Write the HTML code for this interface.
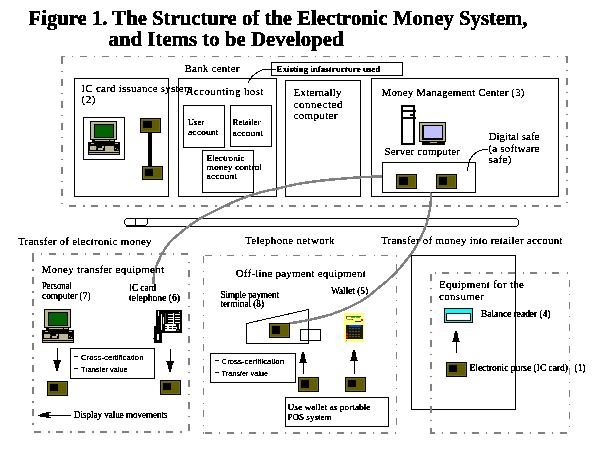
<!DOCTYPE html>
<html><head><meta charset="utf-8"><style>
html,body{margin:0;padding:0;background:#fff;}
body{width:610px;height:457px;overflow:hidden;font-family:"Liberation Serif",serif;}
svg{display:block;}
</style></head><body>
<svg width="610" height="457" viewBox="0 0 610 457" shape-rendering="crispEdges" font-family="Liberation Serif">
<defs><filter id="bw" x="-0.1" y="-0.5" width="1.2" height="2" color-interpolation-filters="sRGB"><feComponentTransfer><feFuncA type="discrete" tableValues="0 0 0 1 1 1 1 1 1 1"/></feComponentTransfer></filter><filter id="bw3" x="-0.1" y="-0.5" width="1.2" height="2" color-interpolation-filters="sRGB"><feComponentTransfer><feFuncA type="discrete" tableValues="0 0 0 0 1 1 1 1 1 1"/></feComponentTransfer></filter><filter id="bwT" x="-0.1" y="-0.5" width="1.2" height="2" color-interpolation-filters="sRGB"><feComponentTransfer><feFuncA type="discrete" tableValues="0 0 1 1 1 1 1 1 1 1"/></feComponentTransfer></filter><filter id="bw2" x="-0.1" y="-0.5" width="1.2" height="2" color-interpolation-filters="sRGB"><feComponentTransfer><feFuncA type="discrete" tableValues="0 0 0 0 0 1 1 1 1 1 1 1 1 1 1 1 1 1 1 1"/></feComponentTransfer></filter></defs>
<rect x="0" y="0" width="610" height="457" fill="#fff"/>
<g filter="url(#bwT)">
<text x="28.5" y="25" font-size="20.7" font-weight="bold" textLength="499" lengthAdjust="spacing">Figure 1. The Structure of the Electronic Money System,</text>
<text x="108.5" y="46" font-size="20.7" font-weight="bold" textLength="235" lengthAdjust="spacing">and Items to be Developed</text>
</g>
<rect x="61" y="56" width="4" height="1" fill="#808080"/>
<rect x="72" y="56" width="1" height="1" fill="#808080"/>
<rect x="80" y="56" width="7" height="1" fill="#808080"/>
<rect x="94" y="56" width="1" height="1" fill="#808080"/>
<rect x="102" y="56" width="7" height="1" fill="#808080"/>
<rect x="116" y="56" width="1" height="1" fill="#808080"/>
<rect x="124" y="56" width="7" height="1" fill="#808080"/>
<rect x="138" y="56" width="1" height="1" fill="#808080"/>
<rect x="146" y="56" width="7" height="1" fill="#808080"/>
<rect x="160" y="56" width="1" height="1" fill="#808080"/>
<rect x="168" y="56" width="7" height="1" fill="#808080"/>
<rect x="182" y="56" width="1" height="1" fill="#808080"/>
<rect x="190" y="56" width="7" height="1" fill="#808080"/>
<rect x="204" y="56" width="1" height="1" fill="#808080"/>
<rect x="212" y="56" width="7" height="1" fill="#808080"/>
<rect x="226" y="56" width="1" height="1" fill="#808080"/>
<rect x="234" y="56" width="7" height="1" fill="#808080"/>
<rect x="248" y="56" width="1" height="1" fill="#808080"/>
<rect x="256" y="56" width="7" height="1" fill="#808080"/>
<rect x="270" y="56" width="1" height="1" fill="#808080"/>
<rect x="278" y="56" width="7" height="1" fill="#808080"/>
<rect x="292" y="56" width="1" height="1" fill="#808080"/>
<rect x="301" y="56" width="7" height="1" fill="#808080"/>
<rect x="315" y="56" width="1" height="1" fill="#808080"/>
<rect x="323" y="56" width="7" height="1" fill="#808080"/>
<rect x="337" y="56" width="1" height="1" fill="#808080"/>
<rect x="345" y="56" width="7" height="1" fill="#808080"/>
<rect x="359" y="56" width="1" height="1" fill="#808080"/>
<rect x="367" y="56" width="7" height="1" fill="#808080"/>
<rect x="381" y="56" width="1" height="1" fill="#808080"/>
<rect x="389" y="56" width="7" height="1" fill="#808080"/>
<rect x="403" y="56" width="1" height="1" fill="#808080"/>
<rect x="411" y="56" width="7" height="1" fill="#808080"/>
<rect x="425" y="56" width="1" height="1" fill="#808080"/>
<rect x="433" y="56" width="7" height="1" fill="#808080"/>
<rect x="447" y="56" width="1" height="1" fill="#808080"/>
<rect x="455" y="56" width="7" height="1" fill="#808080"/>
<rect x="469" y="56" width="1" height="1" fill="#808080"/>
<rect x="477" y="56" width="7" height="1" fill="#808080"/>
<rect x="491" y="56" width="1" height="1" fill="#808080"/>
<rect x="499" y="56" width="7" height="1" fill="#808080"/>
<rect x="513" y="56" width="1" height="1" fill="#808080"/>
<rect x="521" y="56" width="7" height="1" fill="#808080"/>
<rect x="535" y="56" width="1" height="1" fill="#808080"/>
<rect x="543" y="56" width="7" height="1" fill="#808080"/>
<rect x="557" y="56" width="1" height="1" fill="#808080"/>
<rect x="565" y="56" width="3" height="1" fill="#808080"/>
<rect x="61" y="57" width="2" height="7" fill="#808080"/>
<rect x="61" y="71" width="2" height="1" fill="#808080"/>
<rect x="61" y="79" width="2" height="7" fill="#808080"/>
<rect x="61" y="93" width="2" height="1" fill="#808080"/>
<rect x="61" y="101" width="2" height="7" fill="#808080"/>
<rect x="61" y="115" width="2" height="1" fill="#808080"/>
<rect x="61" y="123" width="2" height="7" fill="#808080"/>
<rect x="61" y="137" width="2" height="1" fill="#808080"/>
<rect x="61" y="145" width="2" height="7" fill="#808080"/>
<rect x="61" y="159" width="2" height="1" fill="#808080"/>
<rect x="61" y="167" width="2" height="7" fill="#808080"/>
<rect x="61" y="181" width="2" height="1" fill="#808080"/>
<rect x="61" y="189" width="2" height="7" fill="#808080"/>
<rect x="61" y="203" width="2" height="1" fill="#808080"/>
<rect x="69" y="205" width="7" height="2" fill="#808080"/>
<rect x="83" y="205" width="2" height="2" fill="#808080"/>
<rect x="91" y="205" width="7" height="2" fill="#808080"/>
<rect x="105" y="205" width="2" height="2" fill="#808080"/>
<rect x="113" y="205" width="7" height="2" fill="#808080"/>
<rect x="127" y="205" width="2" height="2" fill="#808080"/>
<rect x="135" y="205" width="7" height="2" fill="#808080"/>
<rect x="149" y="205" width="2" height="2" fill="#808080"/>
<rect x="157" y="205" width="7" height="2" fill="#808080"/>
<rect x="171" y="205" width="2" height="2" fill="#808080"/>
<rect x="179" y="205" width="7" height="2" fill="#808080"/>
<rect x="193" y="205" width="2" height="2" fill="#808080"/>
<rect x="201" y="205" width="7" height="2" fill="#808080"/>
<rect x="215" y="205" width="2" height="2" fill="#808080"/>
<rect x="223" y="205" width="7" height="2" fill="#808080"/>
<rect x="237" y="205" width="2" height="2" fill="#808080"/>
<rect x="245" y="205" width="7" height="2" fill="#808080"/>
<rect x="259" y="205" width="2" height="2" fill="#808080"/>
<rect x="267" y="205" width="7" height="2" fill="#808080"/>
<rect x="281" y="205" width="2" height="2" fill="#808080"/>
<rect x="289" y="205" width="7" height="2" fill="#808080"/>
<rect x="303" y="205" width="2" height="2" fill="#808080"/>
<rect x="311" y="205" width="7" height="2" fill="#808080"/>
<rect x="325" y="205" width="2" height="2" fill="#808080"/>
<rect x="334" y="205" width="7" height="2" fill="#808080"/>
<rect x="348" y="205" width="2" height="2" fill="#808080"/>
<rect x="356" y="205" width="7" height="2" fill="#808080"/>
<rect x="370" y="205" width="2" height="2" fill="#808080"/>
<rect x="378" y="205" width="7" height="2" fill="#808080"/>
<rect x="392" y="205" width="2" height="2" fill="#808080"/>
<rect x="400" y="205" width="7" height="2" fill="#808080"/>
<rect x="414" y="205" width="2" height="2" fill="#808080"/>
<rect x="422" y="205" width="7" height="2" fill="#808080"/>
<rect x="436" y="205" width="2" height="2" fill="#808080"/>
<rect x="444" y="205" width="7" height="2" fill="#808080"/>
<rect x="458" y="205" width="2" height="2" fill="#808080"/>
<rect x="466" y="205" width="7" height="2" fill="#808080"/>
<rect x="480" y="205" width="2" height="2" fill="#808080"/>
<rect x="488" y="205" width="7" height="2" fill="#808080"/>
<rect x="502" y="205" width="2" height="2" fill="#808080"/>
<rect x="510" y="205" width="7" height="2" fill="#808080"/>
<rect x="524" y="205" width="2" height="2" fill="#808080"/>
<rect x="532" y="205" width="7" height="2" fill="#808080"/>
<rect x="546" y="205" width="2" height="2" fill="#808080"/>
<rect x="554" y="205" width="7" height="2" fill="#808080"/>
<rect x="566" y="57" width="2" height="6" fill="#808080"/>
<rect x="566" y="70" width="2" height="1" fill="#808080"/>
<rect x="566" y="78" width="2" height="7" fill="#808080"/>
<rect x="566" y="92" width="2" height="1" fill="#808080"/>
<rect x="566" y="100" width="2" height="7" fill="#808080"/>
<rect x="566" y="114" width="2" height="1" fill="#808080"/>
<rect x="566" y="122" width="2" height="7" fill="#808080"/>
<rect x="566" y="136" width="2" height="1" fill="#808080"/>
<rect x="566" y="144" width="2" height="7" fill="#808080"/>
<rect x="566" y="158" width="2" height="1" fill="#808080"/>
<rect x="566" y="166" width="2" height="7" fill="#808080"/>
<rect x="566" y="180" width="2" height="1" fill="#808080"/>
<rect x="566" y="188" width="2" height="7" fill="#808080"/>
<rect x="566" y="202" width="2" height="1" fill="#808080"/>
<rect x="271" y="62" width="132" height="1" fill="#000"/>
<rect x="271" y="75" width="132" height="1" fill="#000"/>
<rect x="271" y="62" width="1" height="14" fill="#000"/>
<rect x="402" y="62" width="1" height="14" fill="#000"/>
<path d="M275.5,69.5 C273.63,69.50 266.60,69.37 264.3,69.5 C262.00,69.63 262.80,69.85 261.7,70.3 C260.60,70.75 258.92,71.50 257.7,72.2 C256.48,72.90 255.38,73.73 254.4,74.5 C253.42,75.27 252.48,76.05 251.8,76.8 C251.12,77.55 250.77,78.27 250.3,79 C249.83,79.73 249.30,80.53 249,81.2 C248.70,81.87 248.58,82.70 248.5,83" fill="none" stroke="#000" stroke-width="1"/>
<rect x="74" y="78" width="95" height="1" fill="#000"/>
<rect x="74" y="196" width="95" height="1" fill="#000"/>
<rect x="74" y="78" width="1" height="119" fill="#000"/>
<rect x="168" y="78" width="1" height="119" fill="#000"/>
<rect x="83" y="117" width="42" height="1" fill="#000"/>
<rect x="83" y="159" width="42" height="1" fill="#000"/>
<rect x="83" y="117" width="1" height="43" fill="#000"/>
<rect x="124" y="117" width="1" height="43" fill="#000"/>
<rect x="90" y="121" width="27" height="19" fill="#000"/>
<rect x="91" y="122" width="25" height="17" fill="#bdb893"/>
<rect x="94" y="124" width="20" height="14" fill="#000"/>
<rect x="95" y="125" width="18" height="12" fill="#006400"/>
<rect x="92" y="140" width="23" height="2" fill="#000"/>
<rect x="95" y="140" width="4" height="1" fill="#bdb893"/>
<rect x="99" y="140" width="10" height="1" fill="#bdb893"/>
<rect x="110" y="140" width="4" height="1" fill="#bdb893"/>
<rect x="88" y="142" width="32" height="13" fill="#000"/>
<rect x="91" y="143" width="3" height="1" fill="#bdb893"/>
<rect x="115" y="143" width="3" height="1" fill="#bdb893"/>
<rect x="90" y="146" width="6" height="4" fill="#bdb893"/>
<rect x="98" y="148" width="5" height="2" fill="#bdb893"/>
<rect x="102" y="146" width="2" height="2" fill="#bdb893"/>
<rect x="105" y="146" width="9" height="5" fill="#bdb893"/>
<rect x="115" y="148" width="1" height="1" fill="#bdb893"/>
<rect x="117" y="149" width="1" height="1" fill="#bdb893"/>
<rect x="96" y="147" width="1" height="1" fill="#00a000"/>
<rect x="89" y="151" width="30" height="1" fill="#bdb893"/>
<rect x="89" y="153" width="30" height="1" fill="#bdb893"/>
<rect x="148" y="132" width="4" height="35" fill="#000"/>
<rect x="140" y="118" width="21" height="15" fill="#000"/>
<rect x="141" y="119" width="19" height="13" fill="#74700a"/>
<rect x="142" y="120" width="17" height="11" fill="#615d00"/>
<rect x="143" y="121" width="9" height="7" fill="#000"/>
<rect x="142" y="166" width="21" height="14" fill="#000"/>
<rect x="143" y="167" width="19" height="12" fill="#74700a"/>
<rect x="144" y="168" width="17" height="10" fill="#615d00"/>
<rect x="145" y="169" width="8" height="7" fill="#000"/>
<rect x="178" y="78" width="99" height="1" fill="#000"/>
<rect x="178" y="196" width="99" height="1" fill="#000"/>
<rect x="178" y="78" width="1" height="119" fill="#000"/>
<rect x="276" y="78" width="1" height="119" fill="#000"/>
<rect x="183" y="105" width="42" height="1" fill="#000"/>
<rect x="183" y="147" width="42" height="1" fill="#000"/>
<rect x="183" y="105" width="1" height="43" fill="#000"/>
<rect x="224" y="105" width="1" height="43" fill="#000"/>
<rect x="230" y="105" width="42" height="1" fill="#000"/>
<rect x="230" y="146" width="42" height="1" fill="#000"/>
<rect x="230" y="105" width="1" height="42" fill="#000"/>
<rect x="271" y="105" width="1" height="42" fill="#000"/>
<rect x="202" y="150" width="52" height="1" fill="#000"/>
<rect x="202" y="192" width="52" height="1" fill="#000"/>
<rect x="202" y="150" width="1" height="43" fill="#000"/>
<rect x="253" y="150" width="1" height="43" fill="#000"/>
<rect x="285" y="80" width="76" height="1" fill="#000"/>
<rect x="285" y="196" width="76" height="1" fill="#000"/>
<rect x="285" y="80" width="1" height="117" fill="#000"/>
<rect x="360" y="80" width="1" height="117" fill="#000"/>
<rect x="371" y="78" width="188" height="1" fill="#000"/>
<rect x="371" y="196" width="188" height="1" fill="#000"/>
<rect x="371" y="78" width="1" height="119" fill="#000"/>
<rect x="558" y="78" width="1" height="119" fill="#000"/>
<rect x="382" y="162" width="94" height="1" fill="#000"/>
<rect x="382" y="192" width="94" height="1" fill="#000"/>
<rect x="382" y="162" width="1" height="31" fill="#000"/>
<rect x="475" y="162" width="1" height="31" fill="#000"/>
<rect x="396" y="174" width="21" height="15" fill="#000"/>
<rect x="397" y="175" width="19" height="13" fill="#74700a"/>
<rect x="398" y="176" width="17" height="11" fill="#615d00"/>
<rect x="399" y="177" width="9" height="8" fill="#000"/>
<rect x="436" y="174" width="21" height="15" fill="#000"/>
<rect x="437" y="175" width="19" height="13" fill="#74700a"/>
<rect x="438" y="176" width="17" height="11" fill="#615d00"/>
<rect x="439" y="177" width="8" height="8" fill="#000"/>
<rect x="401" y="105" width="14" height="40" fill="#000"/>
<rect x="403" y="107" width="10" height="36" fill="#fff"/>
<rect x="401" y="110" width="15" height="2" fill="#000"/>
<rect x="401" y="117" width="15" height="2" fill="#000"/>
<rect x="410" y="114" width="3" height="2" fill="#000"/>
<rect x="419" y="122" width="27" height="20" fill="#000"/>
<rect x="420" y="123" width="25" height="18" fill="#bdb893"/>
<rect x="422" y="125" width="21" height="15" fill="#000"/>
<rect x="424" y="126" width="18" height="12" fill="#c0c0ff"/>
<rect x="422" y="142" width="23" height="3" fill="#000"/>
<rect x="430" y="142" width="7" height="1" fill="#bdb893"/>
<path d="M488,149.5 C487.25,149.52 485.47,149.10 483.5,149.6 C481.53,150.10 478.25,151.18 476.2,152.5 C474.15,153.82 472.45,155.75 471.2,157.5 C469.95,159.25 469.32,160.67 468.7,163 C468.08,165.33 467.70,170.08 467.5,171.5" fill="none" stroke="#000" stroke-width="1"/>
<rect x="126" y="218" width="391" height="1" fill="#000"/>
<rect x="146" y="226" width="371" height="1" fill="#000"/>
<rect x="517" y="219" width="1" height="1" fill="#000"/>
<rect x="518" y="220" width="1" height="5" fill="#000"/>
<rect x="517" y="225" width="1" height="1" fill="#000"/>
<rect x="125" y="219" width="1" height="1" fill="#000"/>
<rect x="124" y="220" width="1" height="4" fill="#000"/>
<rect x="125" y="224" width="1" height="1" fill="#000"/>
<rect x="147" y="219" width="1" height="5" fill="#000"/>
<rect x="146" y="224" width="1" height="1" fill="#000"/>
<rect x="135" y="219" width="1" height="6" fill="#000"/>
<rect x="126" y="225" width="20" height="2" fill="#000"/>
<rect x="32" y="253" width="2" height="2" fill="#808080"/>
<rect x="41" y="253" width="1" height="2" fill="#808080"/>
<rect x="49" y="253" width="7" height="2" fill="#808080"/>
<rect x="63" y="253" width="1" height="2" fill="#808080"/>
<rect x="71" y="253" width="7" height="2" fill="#808080"/>
<rect x="85" y="253" width="1" height="2" fill="#808080"/>
<rect x="93" y="253" width="7" height="2" fill="#808080"/>
<rect x="107" y="253" width="1" height="2" fill="#808080"/>
<rect x="115" y="253" width="7" height="2" fill="#808080"/>
<rect x="129" y="253" width="1" height="2" fill="#808080"/>
<rect x="137" y="253" width="7" height="2" fill="#808080"/>
<rect x="151" y="253" width="1" height="2" fill="#808080"/>
<rect x="159" y="253" width="7" height="2" fill="#808080"/>
<rect x="173" y="253" width="1" height="2" fill="#808080"/>
<rect x="181" y="253" width="7" height="2" fill="#808080"/>
<rect x="32" y="255" width="2" height="7" fill="#808080"/>
<rect x="32" y="269" width="2" height="2" fill="#808080"/>
<rect x="32" y="277" width="2" height="7" fill="#808080"/>
<rect x="32" y="291" width="2" height="2" fill="#808080"/>
<rect x="32" y="299" width="2" height="7" fill="#808080"/>
<rect x="32" y="313" width="2" height="2" fill="#808080"/>
<rect x="32" y="321" width="2" height="7" fill="#808080"/>
<rect x="32" y="335" width="2" height="2" fill="#808080"/>
<rect x="32" y="343" width="2" height="7" fill="#808080"/>
<rect x="32" y="357" width="2" height="2" fill="#808080"/>
<rect x="32" y="365" width="2" height="7" fill="#808080"/>
<rect x="32" y="379" width="2" height="2" fill="#808080"/>
<rect x="32" y="387" width="2" height="7" fill="#808080"/>
<rect x="32" y="401" width="2" height="2" fill="#808080"/>
<rect x="32" y="409" width="2" height="7" fill="#808080"/>
<rect x="32" y="423" width="2" height="2" fill="#808080"/>
<rect x="34" y="431" width="7" height="2" fill="#808080"/>
<rect x="48" y="431" width="2" height="2" fill="#808080"/>
<rect x="56" y="431" width="7" height="2" fill="#808080"/>
<rect x="70" y="431" width="2" height="2" fill="#808080"/>
<rect x="78" y="431" width="7" height="2" fill="#808080"/>
<rect x="92" y="431" width="2" height="2" fill="#808080"/>
<rect x="100" y="431" width="7" height="2" fill="#808080"/>
<rect x="114" y="431" width="2" height="2" fill="#808080"/>
<rect x="122" y="431" width="7" height="2" fill="#808080"/>
<rect x="136" y="431" width="2" height="2" fill="#808080"/>
<rect x="144" y="431" width="7" height="2" fill="#808080"/>
<rect x="158" y="431" width="2" height="2" fill="#808080"/>
<rect x="166" y="431" width="7" height="2" fill="#808080"/>
<rect x="180" y="431" width="2" height="2" fill="#808080"/>
<rect x="188" y="262" width="2" height="1" fill="#808080"/>
<rect x="188" y="270" width="2" height="7" fill="#808080"/>
<rect x="188" y="284" width="2" height="1" fill="#808080"/>
<rect x="188" y="292" width="2" height="7" fill="#808080"/>
<rect x="188" y="306" width="2" height="1" fill="#808080"/>
<rect x="188" y="314" width="2" height="7" fill="#808080"/>
<rect x="188" y="328" width="2" height="1" fill="#808080"/>
<rect x="188" y="336" width="2" height="7" fill="#808080"/>
<rect x="188" y="350" width="2" height="1" fill="#808080"/>
<rect x="188" y="358" width="2" height="7" fill="#808080"/>
<rect x="188" y="372" width="2" height="1" fill="#808080"/>
<rect x="188" y="380" width="2" height="7" fill="#808080"/>
<rect x="188" y="394" width="2" height="1" fill="#808080"/>
<rect x="188" y="402" width="2" height="7" fill="#808080"/>
<rect x="188" y="416" width="2" height="1" fill="#808080"/>
<rect x="188" y="424" width="2" height="7" fill="#808080"/>
<rect x="44" y="309" width="27" height="19" fill="#000"/>
<rect x="45" y="310" width="25" height="17" fill="#bdb893"/>
<rect x="48" y="312" width="20" height="14" fill="#000"/>
<rect x="49" y="313" width="18" height="12" fill="#006400"/>
<rect x="46" y="328" width="23" height="2" fill="#000"/>
<rect x="49" y="328" width="4" height="1" fill="#bdb893"/>
<rect x="53" y="328" width="10" height="1" fill="#bdb893"/>
<rect x="64" y="328" width="4" height="1" fill="#bdb893"/>
<rect x="42" y="330" width="32" height="13" fill="#000"/>
<rect x="45" y="331" width="3" height="1" fill="#bdb893"/>
<rect x="69" y="331" width="3" height="1" fill="#bdb893"/>
<rect x="44" y="334" width="6" height="4" fill="#bdb893"/>
<rect x="52" y="336" width="5" height="2" fill="#bdb893"/>
<rect x="56" y="334" width="2" height="2" fill="#bdb893"/>
<rect x="59" y="334" width="9" height="5" fill="#bdb893"/>
<rect x="69" y="336" width="1" height="1" fill="#bdb893"/>
<rect x="71" y="337" width="1" height="1" fill="#bdb893"/>
<rect x="50" y="335" width="1" height="1" fill="#00a000"/>
<rect x="43" y="339" width="30" height="1" fill="#bdb893"/>
<rect x="43" y="341" width="30" height="1" fill="#bdb893"/>
<rect x="70" y="348" width="85" height="1" fill="#000"/>
<rect x="70" y="378" width="85" height="1" fill="#000"/>
<rect x="70" y="348" width="1" height="31" fill="#000"/>
<rect x="154" y="348" width="1" height="31" fill="#000"/>
<rect x="47" y="381" width="21" height="15" fill="#000"/>
<rect x="48" y="382" width="19" height="13" fill="#74700a"/>
<rect x="49" y="383" width="17" height="11" fill="#615d00"/>
<rect x="50" y="384" width="8" height="7" fill="#000"/>
<rect x="160" y="380" width="21" height="15" fill="#000"/>
<rect x="161" y="381" width="19" height="13" fill="#74700a"/>
<rect x="162" y="382" width="17" height="11" fill="#615d00"/>
<rect x="163" y="383" width="8" height="7" fill="#000"/>
<rect x="57" y="348" width="1" height="12" fill="#000"/>
<rect x="53" y="360" width="8" height="1" fill="#000"/>
<rect x="54" y="361" width="7" height="1" fill="#000"/>
<rect x="54" y="362" width="6" height="1" fill="#000"/>
<rect x="54" y="363" width="6" height="1" fill="#000"/>
<rect x="55" y="364" width="4" height="1" fill="#000"/>
<rect x="55" y="365" width="4" height="1" fill="#000"/>
<rect x="55" y="366" width="4" height="1" fill="#000"/>
<rect x="55" y="367" width="4" height="1" fill="#000"/>
<rect x="56" y="368" width="2" height="1" fill="#000"/>
<rect x="56" y="369" width="2" height="1" fill="#000"/>
<rect x="56" y="370" width="2" height="1" fill="#000"/>
<rect x="170" y="349" width="1" height="12" fill="#000"/>
<rect x="166" y="361" width="8" height="1" fill="#000"/>
<rect x="167" y="362" width="7" height="1" fill="#000"/>
<rect x="167" y="363" width="6" height="1" fill="#000"/>
<rect x="167" y="364" width="6" height="1" fill="#000"/>
<rect x="168" y="365" width="4" height="1" fill="#000"/>
<rect x="168" y="366" width="4" height="1" fill="#000"/>
<rect x="168" y="367" width="4" height="1" fill="#000"/>
<rect x="168" y="368" width="4" height="1" fill="#000"/>
<rect x="169" y="369" width="2" height="1" fill="#000"/>
<rect x="169" y="370" width="2" height="1" fill="#000"/>
<rect x="169" y="371" width="2" height="1" fill="#000"/>
<rect x="156" y="310" width="26" height="23" fill="#000"/>
<rect x="154" y="326" width="8" height="17" fill="#000"/>
<rect x="153" y="338" width="1" height="1" fill="#000"/>
<rect x="158" y="311" width="1" height="5" fill="#fff"/>
<rect x="161" y="314" width="1" height="16" fill="#fff"/>
<rect x="163" y="317" width="1" height="7" fill="#fff"/>
<rect x="157" y="334" width="2" height="6" fill="#fff"/>
<rect x="165" y="313" width="1" height="10" fill="#4a4a00"/>
<rect x="168" y="314" width="5" height="1" fill="#fff"/>
<rect x="175" y="314" width="5" height="1" fill="#fff"/>
<rect x="168" y="317" width="5" height="1" fill="#fff"/>
<rect x="175" y="317" width="5" height="1" fill="#fff"/>
<rect x="168" y="319" width="5" height="1" fill="#fff"/>
<rect x="175" y="319" width="5" height="1" fill="#fff"/>
<rect x="168" y="322" width="5" height="1" fill="#fff"/>
<rect x="175" y="322" width="5" height="1" fill="#fff"/>
<rect x="173" y="313" width="1" height="11" fill="#fff"/>
<rect x="179" y="312" width="1" height="1" fill="#fff"/>
<rect x="165" y="324" width="11" height="7" fill="#fff"/>
<rect x="165" y="326" width="2" height="1" fill="#000"/>
<rect x="169" y="326" width="3" height="1" fill="#000"/>
<rect x="173" y="326" width="3" height="1" fill="#000"/>
<rect x="165" y="328" width="2" height="1" fill="#000"/>
<rect x="169" y="328" width="3" height="1" fill="#000"/>
<rect x="173" y="328" width="3" height="1" fill="#000"/>
<rect x="176" y="327" width="1" height="2" fill="#fff"/>
<rect x="179" y="324" width="1" height="5" fill="#fff"/>
<rect x="177" y="330" width="2" height="1" fill="#6b6b00"/>
<rect x="38" y="415" width="33" height="1" fill="#000"/>
<rect x="40" y="414" width="2" height="3" fill="#000"/>
<rect x="42" y="413" width="4" height="4" fill="#000"/>
<rect x="46" y="412" width="3" height="6" fill="#000"/>
<rect x="49" y="412" width="2" height="1" fill="#000"/>
<rect x="49" y="417" width="2" height="1" fill="#000"/>
<rect x="205" y="255" width="7" height="1" fill="#808080"/>
<rect x="220" y="255" width="1" height="1" fill="#808080"/>
<rect x="227" y="255" width="7" height="1" fill="#808080"/>
<rect x="242" y="255" width="1" height="1" fill="#808080"/>
<rect x="249" y="255" width="7" height="1" fill="#808080"/>
<rect x="264" y="255" width="1" height="1" fill="#808080"/>
<rect x="271" y="255" width="7" height="1" fill="#808080"/>
<rect x="286" y="255" width="1" height="1" fill="#808080"/>
<rect x="293" y="255" width="7" height="1" fill="#808080"/>
<rect x="308" y="255" width="1" height="1" fill="#808080"/>
<rect x="315" y="255" width="7" height="1" fill="#808080"/>
<rect x="330" y="255" width="1" height="1" fill="#808080"/>
<rect x="337" y="255" width="7" height="1" fill="#808080"/>
<rect x="352" y="255" width="1" height="1" fill="#808080"/>
<rect x="359" y="255" width="7" height="1" fill="#808080"/>
<rect x="374" y="255" width="1" height="1" fill="#808080"/>
<rect x="381" y="255" width="7" height="1" fill="#808080"/>
<rect x="396" y="255" width="1" height="1" fill="#808080"/>
<rect x="203" y="256" width="1" height="7" fill="#808080"/>
<rect x="203" y="271" width="1" height="1" fill="#808080"/>
<rect x="203" y="278" width="1" height="7" fill="#808080"/>
<rect x="203" y="293" width="1" height="1" fill="#808080"/>
<rect x="203" y="300" width="1" height="7" fill="#808080"/>
<rect x="203" y="315" width="1" height="1" fill="#808080"/>
<rect x="203" y="322" width="1" height="7" fill="#808080"/>
<rect x="203" y="337" width="1" height="1" fill="#808080"/>
<rect x="203" y="344" width="1" height="7" fill="#808080"/>
<rect x="203" y="359" width="1" height="1" fill="#808080"/>
<rect x="203" y="366" width="1" height="7" fill="#808080"/>
<rect x="203" y="381" width="1" height="1" fill="#808080"/>
<rect x="203" y="388" width="1" height="7" fill="#808080"/>
<rect x="203" y="403" width="1" height="1" fill="#808080"/>
<rect x="203" y="410" width="1" height="7" fill="#808080"/>
<rect x="203" y="425" width="1" height="1" fill="#808080"/>
<rect x="203" y="432" width="1" height="2" fill="#808080"/>
<rect x="205" y="432" width="7" height="2" fill="#808080"/>
<rect x="219" y="432" width="1" height="2" fill="#808080"/>
<rect x="227" y="432" width="7" height="2" fill="#808080"/>
<rect x="241" y="432" width="1" height="2" fill="#808080"/>
<rect x="249" y="432" width="7" height="2" fill="#808080"/>
<rect x="263" y="432" width="1" height="2" fill="#808080"/>
<rect x="271" y="432" width="7" height="2" fill="#808080"/>
<rect x="285" y="432" width="1" height="2" fill="#808080"/>
<rect x="293" y="432" width="7" height="2" fill="#808080"/>
<rect x="307" y="432" width="1" height="2" fill="#808080"/>
<rect x="315" y="432" width="7" height="2" fill="#808080"/>
<rect x="329" y="432" width="1" height="2" fill="#808080"/>
<rect x="337" y="432" width="7" height="2" fill="#808080"/>
<rect x="351" y="432" width="1" height="2" fill="#808080"/>
<rect x="359" y="432" width="7" height="2" fill="#808080"/>
<rect x="373" y="432" width="1" height="2" fill="#808080"/>
<rect x="381" y="432" width="7" height="2" fill="#808080"/>
<rect x="395" y="432" width="1" height="2" fill="#808080"/>
<rect x="396" y="256" width="1" height="1" fill="#808080"/>
<rect x="396" y="264" width="1" height="7" fill="#808080"/>
<rect x="396" y="278" width="1" height="1" fill="#808080"/>
<rect x="396" y="286" width="1" height="7" fill="#808080"/>
<rect x="396" y="300" width="1" height="1" fill="#808080"/>
<rect x="396" y="308" width="1" height="7" fill="#808080"/>
<rect x="396" y="322" width="1" height="1" fill="#808080"/>
<rect x="396" y="330" width="1" height="7" fill="#808080"/>
<rect x="396" y="344" width="1" height="1" fill="#808080"/>
<rect x="396" y="352" width="1" height="7" fill="#808080"/>
<rect x="396" y="366" width="1" height="1" fill="#808080"/>
<rect x="396" y="374" width="1" height="7" fill="#808080"/>
<rect x="396" y="388" width="1" height="1" fill="#808080"/>
<rect x="396" y="396" width="1" height="7" fill="#808080"/>
<rect x="396" y="410" width="1" height="1" fill="#808080"/>
<rect x="396" y="418" width="1" height="7" fill="#808080"/>
<path d="M246.5,343.5 L246.5,323.5 L308.5,309.5 L308.5,343.5 Z" fill="#fff" stroke="#000"/>
<rect x="246" y="343" width="63" height="1" fill="#000"/>
<rect x="269" y="323" width="21" height="15" fill="#000"/>
<rect x="270" y="324" width="19" height="13" fill="#74700a"/>
<rect x="271" y="325" width="17" height="11" fill="#615d00"/>
<rect x="272" y="326" width="8" height="8" fill="#000"/>
<rect x="300" y="329" width="21" height="1" fill="#000"/>
<rect x="300" y="340" width="21" height="1" fill="#000"/>
<rect x="300" y="329" width="1" height="12" fill="#000"/>
<rect x="320" y="329" width="1" height="12" fill="#000"/>
<rect x="308" y="329" width="1" height="15" fill="#000"/>
<rect x="344" y="313" width="20" height="29" fill="#ffff80"/>
<rect x="346" y="316" width="15" height="1" fill="#606030"/>
<rect x="346" y="316" width="1" height="3" fill="#606030"/>
<rect x="351" y="317" width="4" height="1" fill="#00e000"/>
<rect x="356" y="317" width="4" height="1" fill="#00e000"/>
<rect x="362" y="316" width="1" height="2" fill="#ffffff"/>
<rect x="347" y="319" width="5" height="1" fill="#909070"/>
<rect x="352" y="319" width="1" height="1" fill="#800000"/>
<rect x="361" y="319" width="2" height="2" fill="#ff0000"/>
<rect x="355" y="321" width="6" height="1" fill="#303000"/>
<rect x="346" y="325" width="17" height="14" fill="#1a1a00"/>
<rect x="349" y="325" width="12" height="2" fill="#0040ff"/>
<rect x="349" y="328" width="2" height="1" fill="#505050"/>
<rect x="352" y="328" width="2" height="1" fill="#505050"/>
<rect x="355" y="328" width="2" height="1" fill="#505050"/>
<rect x="358" y="328" width="2" height="1" fill="#505050"/>
<rect x="349" y="331" width="2" height="1" fill="#505050"/>
<rect x="352" y="331" width="2" height="1" fill="#505050"/>
<rect x="355" y="331" width="2" height="1" fill="#505050"/>
<rect x="358" y="331" width="2" height="1" fill="#505050"/>
<rect x="349" y="334" width="2" height="1" fill="#505050"/>
<rect x="352" y="334" width="2" height="1" fill="#505050"/>
<rect x="355" y="334" width="2" height="1" fill="#505050"/>
<rect x="358" y="334" width="2" height="1" fill="#505050"/>
<rect x="349" y="336" width="2" height="1" fill="#505050"/>
<rect x="352" y="336" width="2" height="1" fill="#505050"/>
<rect x="355" y="336" width="2" height="1" fill="#505050"/>
<rect x="358" y="336" width="2" height="1" fill="#505050"/>
<rect x="346" y="333" width="2" height="2" fill="#ff0000"/>
<rect x="346" y="336" width="2" height="2" fill="#ff0000"/>
<rect x="346" y="340" width="1" height="1" fill="#808040"/>
<rect x="210" y="353" width="86" height="1" fill="#000"/>
<rect x="210" y="382" width="86" height="1" fill="#000"/>
<rect x="210" y="353" width="1" height="30" fill="#000"/>
<rect x="295" y="353" width="1" height="30" fill="#000"/>
<rect x="303" y="363" width="1" height="11" fill="#000"/>
<rect x="299" y="362" width="8" height="1" fill="#000"/>
<rect x="300" y="361" width="6" height="1" fill="#000"/>
<rect x="300" y="360" width="6" height="1" fill="#000"/>
<rect x="300" y="359" width="6" height="1" fill="#000"/>
<rect x="301" y="358" width="4" height="1" fill="#000"/>
<rect x="301" y="357" width="4" height="1" fill="#000"/>
<rect x="301" y="356" width="4" height="1" fill="#000"/>
<rect x="301" y="355" width="4" height="1" fill="#000"/>
<rect x="301" y="354" width="4" height="1" fill="#000"/>
<rect x="302" y="353" width="2" height="1" fill="#000"/>
<rect x="302" y="352" width="2" height="1" fill="#000"/>
<rect x="354" y="361" width="1" height="13" fill="#000"/>
<rect x="350" y="360" width="8" height="1" fill="#000"/>
<rect x="351" y="359" width="6" height="1" fill="#000"/>
<rect x="351" y="358" width="6" height="1" fill="#000"/>
<rect x="351" y="357" width="6" height="1" fill="#000"/>
<rect x="352" y="356" width="4" height="1" fill="#000"/>
<rect x="352" y="355" width="4" height="1" fill="#000"/>
<rect x="352" y="354" width="4" height="1" fill="#000"/>
<rect x="352" y="353" width="4" height="1" fill="#000"/>
<rect x="352" y="352" width="4" height="1" fill="#000"/>
<rect x="353" y="351" width="2" height="1" fill="#000"/>
<rect x="353" y="350" width="2" height="1" fill="#000"/>
<rect x="298" y="377" width="21" height="15" fill="#000"/>
<rect x="299" y="378" width="19" height="13" fill="#74700a"/>
<rect x="300" y="379" width="17" height="11" fill="#615d00"/>
<rect x="301" y="380" width="8" height="8" fill="#000"/>
<rect x="345" y="377" width="21" height="15" fill="#000"/>
<rect x="346" y="378" width="19" height="13" fill="#74700a"/>
<rect x="347" y="379" width="17" height="11" fill="#615d00"/>
<rect x="348" y="380" width="8" height="7" fill="#000"/>
<rect x="285" y="397" width="104" height="1" fill="#000"/>
<rect x="285" y="426" width="104" height="1" fill="#000"/>
<rect x="285" y="397" width="1" height="30" fill="#000"/>
<rect x="388" y="397" width="1" height="30" fill="#000"/>
<rect x="411" y="255" width="105" height="1" fill="#000"/>
<rect x="411" y="409" width="105" height="1" fill="#000"/>
<rect x="411" y="255" width="1" height="155" fill="#000"/>
<rect x="515" y="255" width="1" height="155" fill="#000"/>
<rect x="435" y="272" width="1" height="2" fill="#808080"/>
<rect x="442" y="272" width="7" height="2" fill="#808080"/>
<rect x="457" y="272" width="1" height="2" fill="#808080"/>
<rect x="464" y="272" width="7" height="2" fill="#808080"/>
<rect x="479" y="272" width="1" height="2" fill="#808080"/>
<rect x="486" y="272" width="7" height="2" fill="#808080"/>
<rect x="501" y="272" width="1" height="2" fill="#808080"/>
<rect x="508" y="272" width="7" height="2" fill="#808080"/>
<rect x="523" y="272" width="1" height="2" fill="#808080"/>
<rect x="530" y="272" width="7" height="2" fill="#808080"/>
<rect x="545" y="272" width="1" height="2" fill="#808080"/>
<rect x="552" y="272" width="7" height="2" fill="#808080"/>
<rect x="567" y="272" width="1" height="2" fill="#808080"/>
<rect x="430" y="274" width="2" height="7" fill="#808080"/>
<rect x="430" y="288" width="2" height="1" fill="#808080"/>
<rect x="430" y="296" width="2" height="7" fill="#808080"/>
<rect x="430" y="310" width="2" height="1" fill="#808080"/>
<rect x="430" y="318" width="2" height="7" fill="#808080"/>
<rect x="430" y="332" width="2" height="1" fill="#808080"/>
<rect x="430" y="340" width="2" height="7" fill="#808080"/>
<rect x="430" y="354" width="2" height="1" fill="#808080"/>
<rect x="430" y="362" width="2" height="7" fill="#808080"/>
<rect x="430" y="376" width="2" height="1" fill="#808080"/>
<rect x="430" y="384" width="2" height="7" fill="#808080"/>
<rect x="430" y="398" width="2" height="1" fill="#808080"/>
<rect x="430" y="406" width="2" height="7" fill="#808080"/>
<rect x="430" y="420" width="2" height="1" fill="#808080"/>
<rect x="430" y="428" width="2" height="6" fill="#808080"/>
<rect x="432" y="432" width="3" height="2" fill="#808080"/>
<rect x="442" y="432" width="1" height="2" fill="#808080"/>
<rect x="450" y="432" width="7" height="2" fill="#808080"/>
<rect x="464" y="432" width="1" height="2" fill="#808080"/>
<rect x="472" y="432" width="7" height="2" fill="#808080"/>
<rect x="486" y="432" width="1" height="2" fill="#808080"/>
<rect x="494" y="432" width="7" height="2" fill="#808080"/>
<rect x="508" y="432" width="1" height="2" fill="#808080"/>
<rect x="516" y="432" width="7" height="2" fill="#808080"/>
<rect x="530" y="432" width="1" height="2" fill="#808080"/>
<rect x="538" y="432" width="7" height="2" fill="#808080"/>
<rect x="552" y="432" width="1" height="2" fill="#808080"/>
<rect x="560" y="432" width="7" height="2" fill="#808080"/>
<rect x="569" y="280" width="1" height="7" fill="#808080"/>
<rect x="569" y="294" width="1" height="1" fill="#808080"/>
<rect x="569" y="302" width="1" height="7" fill="#808080"/>
<rect x="569" y="316" width="1" height="1" fill="#808080"/>
<rect x="569" y="324" width="1" height="7" fill="#808080"/>
<rect x="569" y="338" width="1" height="1" fill="#808080"/>
<rect x="569" y="346" width="1" height="7" fill="#808080"/>
<rect x="569" y="360" width="1" height="1" fill="#808080"/>
<rect x="569" y="368" width="1" height="7" fill="#808080"/>
<rect x="569" y="382" width="1" height="1" fill="#808080"/>
<rect x="569" y="390" width="1" height="7" fill="#808080"/>
<rect x="569" y="404" width="1" height="1" fill="#808080"/>
<rect x="569" y="412" width="1" height="7" fill="#808080"/>
<rect x="569" y="426" width="1" height="1" fill="#808080"/>
<rect x="444" y="308" width="29" height="15" fill="#00ffff"/>
<rect x="444" y="308" width="29" height="1" fill="#000"/>
<rect x="444" y="322" width="29" height="1" fill="#000"/>
<rect x="444" y="308" width="1" height="15" fill="#000"/>
<rect x="472" y="308" width="1" height="15" fill="#000"/>
<rect x="446" y="313" width="25" height="8" fill="#fff"/>
<rect x="446" y="313" width="25" height="1" fill="#000"/>
<rect x="446" y="320" width="25" height="1" fill="#000"/>
<rect x="446" y="313" width="1" height="8" fill="#000"/>
<rect x="470" y="313" width="1" height="8" fill="#000"/>
<rect x="456" y="342" width="1" height="11" fill="#000"/>
<rect x="452" y="341" width="8" height="1" fill="#000"/>
<rect x="453" y="340" width="6" height="1" fill="#000"/>
<rect x="453" y="339" width="6" height="1" fill="#000"/>
<rect x="453" y="338" width="6" height="1" fill="#000"/>
<rect x="454" y="337" width="4" height="1" fill="#000"/>
<rect x="454" y="336" width="4" height="1" fill="#000"/>
<rect x="454" y="335" width="4" height="1" fill="#000"/>
<rect x="454" y="334" width="4" height="1" fill="#000"/>
<rect x="454" y="333" width="4" height="1" fill="#000"/>
<rect x="455" y="332" width="2" height="1" fill="#000"/>
<rect x="455" y="331" width="2" height="1" fill="#000"/>
<rect x="446" y="362" width="21" height="15" fill="#000"/>
<rect x="447" y="363" width="19" height="13" fill="#74700a"/>
<rect x="448" y="364" width="17" height="11" fill="#615d00"/>
<rect x="449" y="365" width="8" height="7" fill="#000"/>
<path d="M382,176.3 C378.42,176.47 367.03,176.92 360.5,177.3 C353.97,177.68 349.03,178.08 342.8,178.6 C336.57,179.12 329.23,179.73 323.1,180.4 C316.97,181.07 310.52,181.95 306,182.6 C301.48,183.25 299.38,183.63 296,184.3 C292.62,184.97 288.95,185.83 285.7,186.6 C282.45,187.37 279.75,188.18 276.5,188.9 C273.25,189.62 269.27,190.18 266.2,190.9 C263.13,191.62 260.78,192.43 258.1,193.2 C255.42,193.97 252.97,194.53 250.1,195.5 C247.23,196.47 243.77,197.88 240.9,199 C238.03,200.12 235.20,201.25 232.9,202.2 C230.60,203.15 229.97,203.32 227.1,204.7 C224.23,206.08 219.80,208.43 215.7,210.5 C211.60,212.57 206.62,214.77 202.5,217.1 C198.38,219.43 194.82,221.77 191,224.5 C187.18,227.23 183.15,230.50 179.6,233.5 C176.05,236.50 172.58,239.22 169.7,242.5 C166.82,245.78 164.32,249.78 162.3,253.2 C160.28,256.62 158.82,260.20 157.6,263 C156.38,265.80 155.63,267.83 155,270 C154.37,272.17 154.05,273.67 153.8,276 C153.55,278.33 153.55,282.67 153.5,284" fill="none" stroke="#808080" stroke-width="2.5"/>
<path d="M431.3,192.5 C431.15,194.68 430.82,201.92 430.4,205.6 C429.98,209.28 429.48,211.47 428.8,214.6 C428.12,217.73 427.27,221.40 426.3,224.4 C425.33,227.40 424.22,229.87 423,232.6 C421.78,235.33 420.35,238.20 419,240.8 C417.65,243.40 416.42,245.73 414.9,248.2 C413.38,250.67 411.82,253.00 409.9,255.6 C407.98,258.20 405.68,261.03 403.4,263.8 C401.12,266.57 398.95,269.33 396.2,272.2 C393.45,275.07 389.87,278.38 386.9,281 C383.93,283.62 381.35,285.47 378.4,287.9 C375.45,290.33 372.27,293.30 369.2,295.6 C366.13,297.90 363.60,299.65 360,301.7 C356.40,303.75 352.23,305.85 347.6,307.9 C342.97,309.95 337.33,312.28 332.2,314 C327.07,315.72 320.90,317.17 316.8,318.2 C312.70,319.23 311.20,319.48 307.6,320.2 C304.00,320.92 298.22,322.00 295.2,322.5 C292.18,323.00 290.45,323.08 289.5,323.2" fill="none" stroke="#808080" stroke-width="2.5"/>
<g shape-rendering="auto" fill="#000" filter="url(#bw)">
<text x="184.5" y="72" font-size="11" textLength="55" lengthAdjust="spacing">Bank center</text>
<text x="276.5" y="72" font-size="8.5" font-weight="bold" textLength="104" lengthAdjust="spacingAndGlyphs">Existing infastructure used</text>
<text x="81.5" y="92" font-size="11" textLength="111" lengthAdjust="spacing">IC card issuance system</text>
<text x="81.5" y="102.5" font-size="11" textLength="14" lengthAdjust="spacing">(2)</text>
<text x="185.5" y="95" font-size="11" textLength="78" lengthAdjust="spacing">Accounting host</text>
<text x="188" y="125" font-size="9" textLength="16" lengthAdjust="spacingAndGlyphs" filter="url(#bw2)">User</text>
<text x="188" y="135" font-size="9" textLength="30.5" lengthAdjust="spacingAndGlyphs" filter="url(#bw2)">account</text>
<text x="232.5" y="125" font-size="9" textLength="28" lengthAdjust="spacingAndGlyphs" filter="url(#bw2)">Retailer</text>
<text x="232.5" y="136" font-size="9" textLength="30.5" lengthAdjust="spacingAndGlyphs" filter="url(#bw2)">account</text>
<text x="206.5" y="161" font-size="9" textLength="38" lengthAdjust="spacingAndGlyphs" filter="url(#bw2)">Electronic</text>
<text x="206.5" y="170" font-size="9" textLength="55.5" lengthAdjust="spacingAndGlyphs" filter="url(#bw2)">money control</text>
<text x="206.5" y="179" font-size="9" textLength="30.5" lengthAdjust="spacingAndGlyphs" filter="url(#bw2)">account</text>
<text x="293.5" y="96" font-size="11" textLength="48" lengthAdjust="spacing">Externally</text>
<text x="293.5" y="107.5" font-size="11" textLength="49" lengthAdjust="spacing">connected</text>
<text x="293.5" y="119" font-size="11" textLength="44" lengthAdjust="spacing">computer</text>
<text x="381.5" y="96" font-size="11" textLength="143" lengthAdjust="spacing">Money Management Center (3)</text>
<text x="384.5" y="155" font-size="11" textLength="75.5" lengthAdjust="spacing">Server computer</text>
<text x="488.5" y="140" font-size="11" textLength="51" lengthAdjust="spacing">Digital safe</text>
<text x="488.5" y="151.5" font-size="11" textLength="51" lengthAdjust="spacing">(a software</text>
<text x="488.5" y="162.5" font-size="11" textLength="23" lengthAdjust="spacing">safe)</text>
<text x="18" y="245" font-size="11" textLength="133.5" lengthAdjust="spacing">Transfer of electronic money</text>
<text x="245" y="244" font-size="11" textLength="89.5" lengthAdjust="spacing">Telephone network</text>
<text x="381" y="244" font-size="11" textLength="181.5" lengthAdjust="spacing">Transfer of money into retailer account</text>
<text x="41.5" y="272.5" font-size="11" textLength="122.5" lengthAdjust="spacing">Money transfer equipment</text>
<text x="42" y="289" font-size="9.3" textLength="30" lengthAdjust="spacingAndGlyphs" filter="url(#bw2)">Personal</text>
<text x="42" y="299" font-size="9.3" textLength="48.5" lengthAdjust="spacingAndGlyphs" filter="url(#bw2)">computer (7)</text>
<text x="129" y="291" font-size="9.3" textLength="27" lengthAdjust="spacingAndGlyphs" filter="url(#bw2)">IC card</text>
<text x="129" y="301" font-size="9.3" textLength="51" lengthAdjust="spacingAndGlyphs" filter="url(#bw2)">telephone (6)</text>
<text x="81" y="360" font-size="7.5" font-family="Liberation Sans" textLength="62.5" lengthAdjust="spacingAndGlyphs">Cross-certification</text>
<text x="81" y="372" font-size="7.5" font-family="Liberation Sans" textLength="46.5" lengthAdjust="spacingAndGlyphs">Transfer value</text>
<rect x="74" y="356" width="4" height="1" fill="#000"/>
<rect x="74" y="368" width="4" height="1" fill="#000"/>
<text x="74" y="418" font-size="9.3" textLength="93.5" lengthAdjust="spacingAndGlyphs" filter="url(#bw2)">Display value movements</text>
<text x="235.7" y="277" font-size="11" textLength="130" lengthAdjust="spacing">Off-line payment equipment</text>
<text x="220.5" y="297.5" font-size="9.3" textLength="58.5" lengthAdjust="spacingAndGlyphs" filter="url(#bw2)">Simple payment</text>
<text x="220.5" y="307" font-size="9.3" textLength="43.5" lengthAdjust="spacingAndGlyphs" filter="url(#bw2)">terminal (8)</text>
<text x="331" y="294" font-size="9.3" textLength="37" lengthAdjust="spacingAndGlyphs" filter="url(#bw2)">Wallet (5)</text>
<text x="221.5" y="364" font-size="7.5" font-family="Liberation Sans" textLength="62.5" lengthAdjust="spacingAndGlyphs">Cross-certification</text>
<text x="221.5" y="376" font-size="7.5" font-family="Liberation Sans" textLength="46.5" lengthAdjust="spacingAndGlyphs">Transfer value</text>
<rect x="215" y="360" width="4" height="1" fill="#000"/>
<rect x="215" y="372" width="4" height="1" fill="#000"/>
<text x="287.5" y="410" font-size="9.2" textLength="83" lengthAdjust="spacingAndGlyphs" filter="url(#bw2)">Use wallet as portable</text>
<text x="287.5" y="420" font-size="9.2" textLength="44" lengthAdjust="spacingAndGlyphs" filter="url(#bw2)">POS system</text>
<text x="439" y="288" font-size="11" textLength="85" lengthAdjust="spacing">Equipment for the</text>
<text x="439" y="300" font-size="11" textLength="45" lengthAdjust="spacing">consumer</text>
<text x="481" y="317" font-size="9.3" textLength="69.5" lengthAdjust="spacingAndGlyphs" filter="url(#bw2)">Balance reader (4)</text>
<text x="469.5" y="371" font-size="9.3" textLength="98.5" lengthAdjust="spacingAndGlyphs" filter="url(#bw2)">Electronic purse (IC card)</text>
<text x="574.5" y="371" font-size="9.3" textLength="11" lengthAdjust="spacingAndGlyphs" filter="url(#bw2)">(1)</text>
</g>
</svg>
</body></html>
